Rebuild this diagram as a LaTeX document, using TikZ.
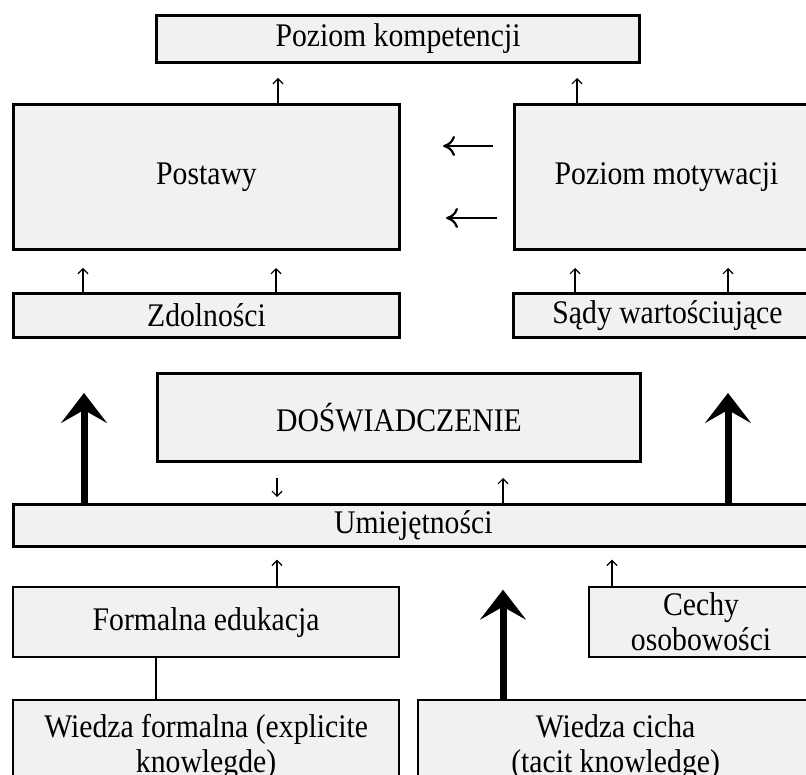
\documentclass[tikz,border=0pt]{standalone}
\usepackage{fontspec}
\setmainfont{Liberation Serif}[FakeStretch=0.9]
\usetikzlibrary{arrows.meta,calc}
\definecolor{boxfill}{RGB}{241,241,241}
\tikzset{
  box/.style={draw=black, fill=boxfill, rectangle, anchor=north west,
    inner sep=0pt, align=center, font=\fontsize{33}{35}\selectfont},
  boxheavy/.style={box, line width=3pt},
  boxlight/.style={box, line width=2.2pt},
  smallarrow/.style={line width=1.2pt, -{Straight Barb[length=5pt,width=10pt]}},
  sidearrow/.style={line width=2.2pt, -{Computer Modern Rightarrow[length=12pt,width=20pt]}},
  bigarrow/.style={line width=7pt, -{Stealth[length=30pt,width=46pt,inset=13pt]}},
  plainlink/.style={line width=1.3pt}
}
\begin{document}
\begin{tikzpicture}[x=1pt,y=-1pt]
\useasboundingbox (0,0) rectangle (806,775);

% boxes
\node[boxheavy, minimum width=483pt, minimum height=47pt] (komp) at (155,14) {Poziom kompetencji};
\node[boxheavy, minimum width=386pt, minimum height=145pt] (postawy) at (12,103) {Postawy};
\node[boxheavy, minimum width=304pt, minimum height=145pt] (motyw) at (513,103) {Poziom motywacji};
\node[boxheavy, minimum width=386pt, minimum height=44pt] (zdol) at (12,292) {Zdolności};
\node[boxheavy, minimum width=308pt, minimum height=44pt] (sady) at (512,292) {Sądy wartościujące};
\node[boxheavy, minimum width=483pt, minimum height=88pt] (dosw) at (156,372) {DOŚWIADCZENIE};
\node[box, line width=2.7pt, minimum width=800pt, minimum height=42pt] (umiej) at (12,503) {Umiejętności};
\node[boxlight, minimum width=386pt, minimum height=70pt] (formal) at (12,586) {Formalna edukacja};
\node[boxlight, minimum width=224pt, minimum height=70pt] (cechy) at (588,586) {Cechy\\osobowości};
\node[boxlight, minimum width=386pt, minimum height=94pt] (wformal) at (12,699) {Wiedza formalna (explicite\\knowlegde)};
\node[boxlight, minimum width=395pt, minimum height=94pt] (wcicha) at (417,699) {Wiedza cicha\\(tacit knowledge)};

% thin arrows between neighbouring levels
\draw[smallarrow, shorten >=14pt] (postawy.north -| 278,0) -- (komp.south -| 278,0);
\draw[smallarrow, shorten >=14pt] (motyw.north -| 577,0) -- (komp.south -| 577,0);
\draw[smallarrow, shorten >=17pt] (zdol.north -| 83,0) -- (postawy.south -| 83,0);
\draw[smallarrow, shorten >=17pt] (zdol.north -| 276,0) -- (postawy.south -| 276,0);
\draw[smallarrow, shorten >=17pt] (sady.north -| 575,0) -- (motyw.south -| 575,0);
\draw[smallarrow, shorten >=17pt] (sady.north -| 728,0) -- (motyw.south -| 728,0);
\draw[smallarrow, shorten <=15pt, shorten >=6pt] (dosw.south -| 277,0) -- (umiej.north -| 277,0);
\draw[smallarrow, shorten >=15pt] (umiej.north -| 503,0) -- (dosw.south -| 503,0);
\draw[smallarrow, shorten >=12pt] (formal.north -| 277,0) -- (umiej.south -| 277,0);
\draw[smallarrow, shorten >=12pt] (cechy.north -| 612,0) -- (umiej.south -| 612,0);

% motivation feeding attitudes
\draw[sidearrow, shorten <=20pt, shorten >=42pt] (motyw.west |- 0,146) -- (postawy.east |- 0,146);
\draw[sidearrow, shorten <=16pt, shorten >=45pt] (motyw.west |- 0,218) -- (postawy.east |- 0,218);

% heavy arrows
\draw[bigarrow, shorten >=54pt] (umiej.north -| 84,0) -- (zdol.south -| 84,0);
\draw[bigarrow, shorten >=54pt] (umiej.north -| 728,0) -- (sady.south -| 728,0);
\draw[bigarrow, shorten >=42pt] (wcicha.north -| 503,0) -- (umiej.south -| 503,0);

% link between formal education and formal knowledge
\draw[plainlink] (formal.south -| 156,0) -- (wformal.north -| 156,0);
\end{tikzpicture}
\end{document}
